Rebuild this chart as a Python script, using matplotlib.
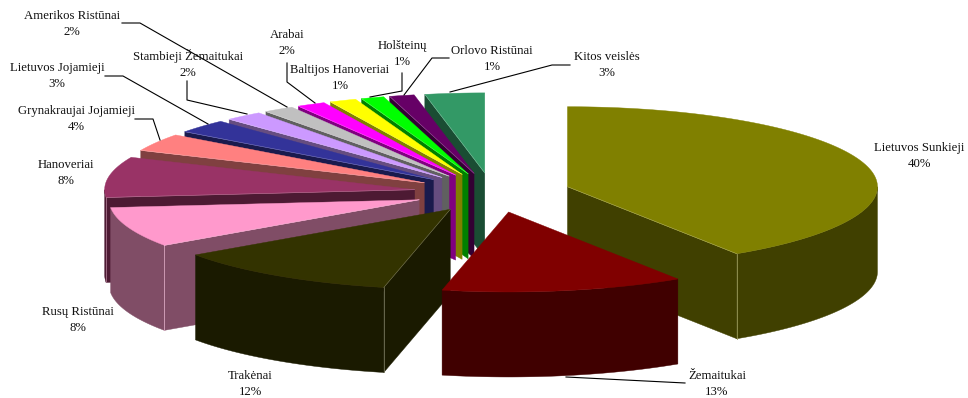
import numpy as np
import matplotlib
matplotlib.use("Agg")
import matplotlib.pyplot as plt
from matplotlib.colors import to_rgb
from matplotlib.patches import Polygon

# veisles, pradedant nuo virsaus pagal laikrodzio rodykle
breeds = ["Lietuvos Sunkieji", "Žemaitukai", "Trakėnai", "Rusų Ristūnai", "Hanoveriai",
          "Grynakraujai Jojamieji", "Lietuvos Jojamieji", "Stambieji Žemaitukai",
          "Amerikos Ristūnai", "Arabai", "Baltijos Hanoveriai", "Holšteinų",
          "Orlovo Ristūnai", "Kitos veislės"]
shares = [40.4, 12.6, 12.0, 8.2, 8.3, 3.6, 2.8, 2.0, 1.6, 1.5, 1.4, 1.2, 1.3, 3.1]
colors = ["#808000", "#800000", "#333300", "#FF99CC", "#993366", "#FF8080", "#333399",
          "#CC99FF", "#C0C0C0", "#FF00FF", "#FFFF00", "#00FF00", "#660066", "#339966"]

# uzrasu vietos (pikseliais)
label_x = [919, 717, 250, 78, 66, 76, 57, 188, 72, 287, 340, 402, 492, 607]
label_y = [156, 384, 384, 320, 173, 119, 76, 64, 24, 43, 78, 54, 59, 65]

# linijos nuo uzrasu iki griezinio
leaders = {
    "Amerikos Ristūnai": [(122, 23), (140, 23), (287, 107)],
    "Stambieji Žemaitukai": [(187, 81), (187, 100), (247, 114)],
    "Arabai": [(287, 63), (287, 82), (315, 103)],
    "Holšteinų": [(402, 73), (402, 91), (370, 97)],
    "Orlovo Ristūnai": [(449, 58), (432, 58), (404, 95)],
    "Kitos veislės": [(570, 65), (552, 65), (450, 92)],
    "Lietuvos Jojamieji": [(105, 76), (123, 76), (208, 124)],
    "Grynakraujai Jojamieji": [(135, 119), (153, 119), (160, 140)],
    "Žemaitukai": [(566, 377), (685, 383)],
}

# pyrago geometrija
cx, cy = 492.4, 192.6
rx, ry = 310, 80
depth = 85
explode_x, explode_y = 78.6, 19.8
twist = np.deg2rad(1.6)  # nedidelis perspektyvos iskraipymas

# paisymo tvarka: is galo i prieki
draw_order = [13, 12, 11, 10, 9, 8, 7, 6, 5, 4, 3, 0, 2, 1]


def rim(ax0, ay0, a):
    return ax0 + rx * np.sin(a), ay0 - ry * np.cos(a)


def draw_slice(ax, a0, a1, mid, color, z):
    ax0 = cx + explode_x * np.sin(mid)
    ay0 = cy - explode_y * np.cos(mid)
    top = to_rgb(color)
    side = tuple(c / 2 for c in top)
    corner = tuple(min(1, c / 2 + 0.35) for c in top)
    light = tuple(c + (1 - c) * 0.35 for c in top)

    # matomos sonines sienos
    walls = []
    if np.sin(a0) < -1e-6:
        walls.append(a0)
    if np.sin(a1) > 1e-6:
        walls.append(a1)
    for a in walls:
        x, y = rim(ax0, ay0, a)
        ax.add_patch(Polygon([(ax0, ay0), (x, y), (x, y + depth), (ax0, ay0 + depth)],
                             fc=side, ec=side, lw=0.3, zorder=z))

    # isorine lanko dalis
    lo, hi = max(a0, np.pi / 2), min(a1, 3 * np.pi / 2)
    if hi > lo:
        t = np.linspace(lo, hi, 60)
        x, y = rim(ax0, ay0, t)
        pts = list(zip(x, y)) + list(zip(x[::-1], y[::-1] + depth))
        ax.add_patch(Polygon(pts, fc=side, ec=side, lw=0.3, zorder=z))
        for a in walls:
            xe, ye = rim(ax0, ay0, a)
            ax.plot([xe, xe], [ye, ye + depth], color=corner, lw=0.6, zorder=z + 0.2)

    # virsus
    t = np.linspace(a0, a1, 120)
    x, y = rim(ax0, ay0, t)
    pts = [(ax0, ay0)] + list(zip(x, y))
    ax.add_patch(Polygon(pts, fc=top, ec=top, lw=0.3, zorder=z + 0.5))
    for a in walls:
        xe, ye = rim(ax0, ay0, a)
        ax.plot([ax0, xe], [ay0, ye], color=light, lw=0.4, zorder=z + 0.6)


fig = plt.figure(figsize=(9.68, 3.98), dpi=100)
ax = fig.add_axes([0, 0, 1, 1])
ax.set_xlim(0, 968)
ax.set_ylim(398, 0)
ax.axis("off")

raw = np.deg2rad(np.concatenate([[0], np.cumsum(shares) / np.sum(shares) * 360]))
edges = raw + twist * (1 - np.cos(raw)) / 2
for z, i in enumerate(draw_order):
    draw_slice(ax, edges[i], edges[i + 1], (raw[i] + raw[i + 1]) / 2, colors[i], z)

for name, line in leaders.items():
    ax.plot([p[0] for p in line], [p[1] for p in line], color="black", lw=0.8, zorder=30)

for i, name in enumerate(breeds):
    ax.text(label_x[i], label_y[i], f"{name}\n{shares[i]:.0f}%", ha="center", va="center",
            family="Liberation Serif", fontsize=9.2, linespacing=1.45, color="#111111", zorder=40)

fig.savefig("out.png", dpi=100)
